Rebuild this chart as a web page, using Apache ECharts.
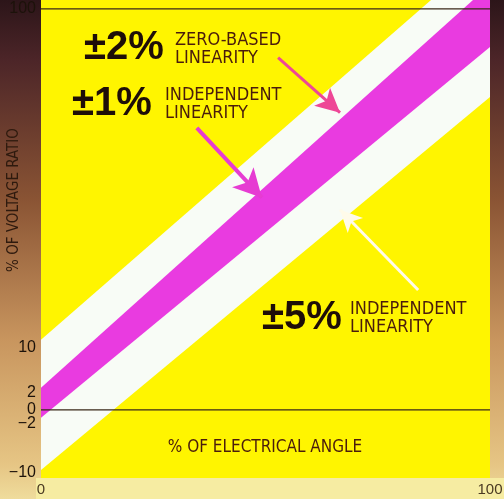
<!DOCTYPE html>
<html>
<head>
<meta charset="utf-8">
<script src="https://cdn.jsdelivr.net/npm/echarts@6/dist/echarts.min.js"></script>
</head>
<body style="margin:0">
<div id="chart" style="width:504px;height:499px"></div>
<script>
var xs = [0, 100];
// +-5% independent linearity band (white), in % of voltage ratio
var whiteLow = [-15, 78];
var whiteHigh = [17.5, 115];
// +-1% independent / +-2% zero-based band (magenta)
var magLow = [-2, 90.5];
var magHigh = [5.5, 106];
// horizontal reference lines
var refLevels = [0, 100];
// tick labels as printed on the figure
var yTickLabels = ['\u221210', '\u22122', '0', '2', '10', '100'];
var xTickLabels = ['0', '100'];

// the figure is drawn out of scale near zero, so labels sit where they are printed
var yTickAt = [-15.7, -3.5, 0, 4.2, 15.5, 100];

var narrow = "'Liberation Sans Narrow', 'DejaVu Sans Condensed', sans-serif";
var bold = "'Liberation Sans', Arial, sans-serif";

// one polygon per pair of neighbouring x values, lower edge then upper edge back
function band(name, lo, hi, color) {
  var data = [];
  for (var i = 0; i < xs.length - 1; i++) {
    data.push([xs[i], xs[i + 1], lo[i], lo[i + 1], hi[i], hi[i + 1]]);
  }
  return {
    name: name, type: 'custom', data: data, clip: true, silent: true,
    encode: { x: [0, 1], y: [2, 3, 4, 5] },
    renderItem: function (params, api) {
      var pts = [
        api.coord([api.value(0), api.value(2)]),
        api.coord([api.value(1), api.value(3)]),
        api.coord([api.value(1), api.value(5)]),
        api.coord([api.value(0), api.value(4)])
      ];
      return { type: 'polygon', shape: { points: pts }, style: { fill: color } };
    }
  };
}

function arrow(from, to, color, width, size) {
  return [
    { coord: from, symbol: 'none', lineStyle: { color: color, width: width, type: 'solid' } },
    { coord: to, symbol: 'arrow', symbolSize: size }
  ];
}

var chart = echarts.init(document.getElementById('chart'));

var series = [
  band('white', whiteLow, whiteHigh, '#f8fcf6'),
  band('magenta', magLow, magHigh, '#e93be0')
];

refLevels.forEach(function (lv, k) {
  series.push({
    type: 'line', data: xs.map(function (x) { return [x, lv]; }), symbol: 'none',
    lineStyle: { color: '#3a2818', width: 1.3 }, silent: true,
    markLine: k ? undefined : {
      silent: true, animation: false, label: { show: false },
      data: [
        arrow([52.8, 87.8], [66.6, 74.1], '#ee4796', 3, [18, 24]),
        arrow([34.7, 70.3], [49.2, 52.9], '#e63cd2', 4, [22, 28]),
        arrow([84, 29.9], [66.6, 49.9], '#fffbea', 3, [16, 22])
      ]
    }
  });
});

function txt(x, y, s, size, font, color, align) {
  return { type: 'text', x: x, y: y, silent: true,
    style: { text: s, fontSize: size, fontFamily: font, fontWeight: size > 30 ? 'bold' : 'normal',
      fill: color, align: align || 'left', verticalAlign: 'middle' } };
}

chart.setOption({
  animation: false,
  backgroundColor: {
    type: 'linear', x: 0, y: 0, x2: 0, y2: 1,
    colorStops: [
      { offset: 0, color: '#2c1519' },
      { offset: 0.12, color: '#4c2528' },
      { offset: 0.4, color: '#8a5434' },
      { offset: 0.68, color: '#c8955e' },
      { offset: 0.93, color: '#e6c584' },
      { offset: 1, color: '#efdc9c' }
    ]
  },
  grid: { left: 41, right: 14, top: 0, bottom: 21, outerBoundsMode: 'none', containLabel: false,
    show: true, backgroundColor: '#fff500', borderWidth: 0 },
  xAxis: {
    type: 'value', min: 0, max: 100, interval: 100,
    axisLine: { show: false }, axisTick: { show: false }, splitLine: { show: false },
    axisLabel: { margin: 4, fontSize: 15, fontFamily: bold, color: '#4a3a22',
      formatter: function (v) { return xTickLabels[xs.indexOf(v)]; } }
  },
  yAxis: {
    type: 'value', min: -17, max: 102.2,
    axisLine: { show: false }, axisTick: { show: false }, splitLine: { show: false },
    axisLabel: { customValues: yTickAt, margin: 5, fontSize: 16, fontFamily: bold, color: '#1c120a',
      formatter: function (v) { return yTickLabels[yTickAt.indexOf(v)]; } }
  },
  graphic: [
    { type: 'rect', z: -1, silent: true, shape: { x: 36, y: 478, width: 468, height: 21 },
      style: { fill: '#f6eca2' } },
    { type: 'text', x: 14, y: 200, rotation: Math.PI / 2, silent: true,
      style: { text: '% OF VOLTAGE RATIO', fontSize: 15, fontFamily: narrow, fill: '#2e1a0e',
        align: 'center', verticalAlign: 'middle' } },
    txt(265, 448, '% OF ELECTRICAL ANGLE', 17, narrow, '#4a1c0c', 'center'),
    txt(84, 48, '\u00b12%', 40, bold, '#1e0e08'),
    txt(175, 40, 'ZERO-BASED', 18, narrow, '#4a1c0c'),
    txt(175, 58, 'LINEARITY', 18, narrow, '#4a1c0c'),
    txt(72, 104, '\u00b11%', 40, bold, '#1e0e08'),
    txt(165, 95, 'INDEPENDENT', 18, narrow, '#4a1c0c'),
    txt(165, 113, 'LINEARITY', 18, narrow, '#4a1c0c'),
    txt(262, 318, '\u00b15%', 40, bold, '#1e0e08'),
    txt(350, 309, 'INDEPENDENT', 18, narrow, '#4a1c0c'),
    txt(350, 327, 'LINEARITY', 18, narrow, '#4a1c0c')
  ],
  series: series
});
</script>
</body>
</html>
